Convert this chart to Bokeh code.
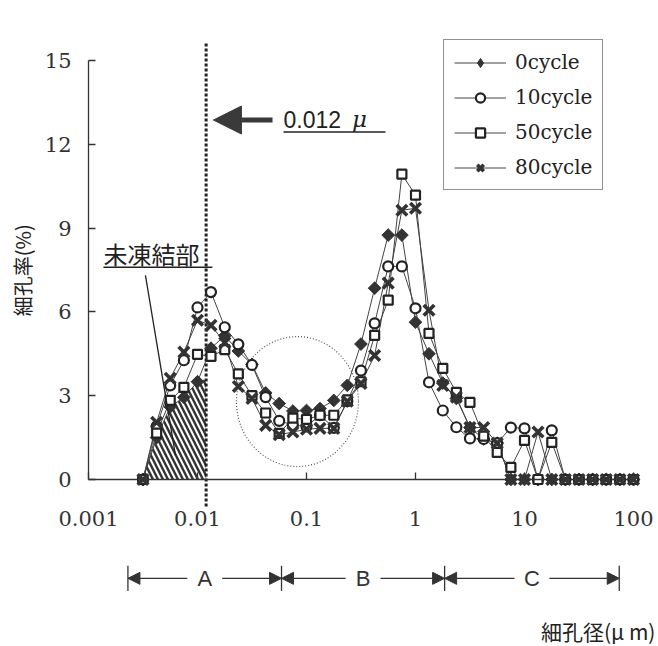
import math

from bokeh.plotting import figure
from bokeh.models import (Range1d, FixedTicker, Arrow, NormalHead, Label,
                          Legend, LegendItem)
from bokeh.core.properties import value
from bokeh.embed import file_html
from bokeh.resources import INLINE

# Pore diameter classes (um)
pore_um = [0.00316, 0.00422, 0.00562, 0.0075, 0.01, 0.0133, 0.0178, 0.0237, 0.0316,
           0.0422, 0.0562, 0.075, 0.1, 0.133, 0.178, 0.237, 0.316, 0.422, 0.562, 0.75,
           1.0, 1.33, 1.78, 2.37, 3.16, 4.22, 5.62, 7.5, 10, 13.3, 17.8, 23.7, 31.6,
           42.2, 56.2, 75, 100]

# Pore volume fraction (%) after freeze-thaw cycles
cycle_0 = [0, 1.5, 2.6, 2.94, 3.5, 4.7, 5.15, 4.6, 4.12, 3.1, 2.72, 2.45, 2.47, 2.54,
           2.83, 3.37, 4.85, 6.85, 8.75, 8.75, 5.63, 4.5, 3.45, 2.9, 1.86, 1.45, 1.3,
           0, 0, 0, 0, 0, 0, 0, 0, 0, 0]
cycle_10 = [0, 1.9, 3.37, 4.27, 6.16, 6.71, 5.45, 4.84, 4.1, 2.95, 2.1, 1.95, 1.9, 2.3,
            1.85, 2.8, 3.9, 5.59, 7.63, 7.63, 6.13, 3.48, 2.47, 1.87, 1.47, 1.45, 1.3,
            1.86, 1.83, 0, 1.76, 0, 0, 0, 0, 0, 0]
cycle_50 = [0, 1.66, 2.83, 3.3, 4.48, 4.41, 4.65, 3.78, 3.0, 2.38, 1.65, 2.2, 2.15, 2.3,
            2.3, 2.85, 3.5, 5.16, 6.42, 10.93, 10.18, 5.23, 3.98, 3.12, 2.76, 1.55, 0.97,
            0.43, 1.4, 0, 1.33, 0, 0, 0, 0, 0, 0]
cycle_80 = [0, 2.05, 3.62, 4.56, 5.7, 5.52, 4.9, 3.33, 2.9, 1.94, 1.6, 1.7, 1.8, 1.83,
            1.83, 2.8, 3.44, 4.44, 7.03, 9.64, 9.71, 6.06, 3.37, 2.95, 1.86, 1.86, 1.3,
            0, 0, 1.7, 0, 0, 0, 0, 0, 0, 0]

series_names = ["0cycle", "10cycle", "50cycle", "80cycle"]

x_ticks = [0.001, 0.01, 0.1, 1, 10, 100]
x_tick_labels = ["0.001", "0.01", "0.1", "1", "10", "100"]
y_ticks = [0, 3, 6, 9, 12, 15]

freeze_limit_um = 0.012          # smallest pore that freezes
unfrozen_top = 3.6               # hatched area height at the freezing limit
region_edges = [0.0023, 0.059, 1.85, 74]
region_names = ["A", "B", "C"]

INK = "#333333"
DARK = "#222222"
SERIF = "DejaVu Serif"
SANS = "Liberation Sans"
CJK = "Noto Sans CJK JP"

# the plot frame fills the whole page; the axes are pinned inside it
p = figure(width=658, height=646, x_axis_type="log", title=None,
           x_range=Range1d(10 ** -3.8073, 10 ** 2.2294), y_range=Range1d(-5.98, 17.15),
           output_backend="svg", toolbar_location=None,
           min_border_left=0, min_border_right=0, min_border_top=0,
           min_border_bottom=0)
p.outline_line_color = None
p.xgrid.visible = False
p.ygrid.visible = False
p.background_fill_color = "white"
p.border_fill_color = "white"

for ax in (p.xaxis[0], p.yaxis[0]):
    ax.axis_line_color = INK
    ax.axis_line_width = 1.3
    ax.major_tick_line_color = INK
    ax.major_tick_line_width = 1.3
    ax.major_tick_in = 7
    ax.major_tick_out = 0
    ax.minor_tick_line_color = None
    ax.major_label_text_font = SERIF
    ax.major_label_text_font_size = "21px"
    ax.major_label_text_color = INK

xa = p.xaxis[0]
xa.fixed_location = 0
xa.bounds = (x_ticks[0], x_ticks[-1])
xa.ticker = FixedTicker(ticks=x_ticks)
xa.major_label_overrides = {t: s for t, s in zip(x_ticks, x_tick_labels)}
xa.major_label_standoff = 32

ya = p.yaxis[0]
ya.fixed_location = x_ticks[0]
ya.bounds = (y_ticks[0], y_ticks[-1])
ya.ticker = FixedTicker(ticks=y_ticks)
ya.major_label_standoff = 17

# hatched unfrozen part below the freezing limit
n_small = sum(1 for d in pore_um if d < freeze_limit_um)
hatch_x = pore_um[:n_small] + [freeze_limit_um, freeze_limit_um]
hatch_y = cycle_0[:n_small] + [unfrozen_top, 0]
p.patch(hatch_x, hatch_y, fill_alpha=0, line_color=None,
        hatch_pattern="left_diagonal_line", hatch_color=INK,
        hatch_weight=2.4, hatch_scale=10)

# dotted ring around the mid-size minimum
p.ellipse(x=[0.0826], y=[2.79], width=122, height=130,
          width_units="screen", height_units="screen",
          fill_color=None, line_color="#555555", line_width=1.2, line_dash="1 2")

# freezing-limit marker line
p.segment(x0=[freeze_limit_um], y0=[-0.97], x1=[freeze_limit_um], y1=[15.66],
          line_color=DARK, line_width=3, line_dash="3 2")

# series
data = [cycle_0, cycle_10, cycle_50, cycle_80]
marker_styles = [
    dict(marker="square", angle=math.pi / 4, size=9, fill_color=INK, line_color=INK,
         line_width=1),
    dict(marker="circle", size=10, fill_color="white", line_color=DARK, line_width=2.2),
    dict(marker="square", size=9, fill_color="white", line_color=DARK, line_width=2.2),
    dict(marker="x", size=15, line_color=INK, line_width=3.6),
]
lines = [p.line(pore_um, ys, line_color="#444444", line_width=1) for ys in data]

# legend swatch for the filled diamonds (legend glyphs are drawn unrotated); it sits
# on the first 0cycle point, fully covered by the rotated square drawn there
diamond_key = p.scatter(x=pore_um[:1], y=cycle_0[:1], marker="diamond", size=13,
                        fill_color=INK, line_color=INK)
dots = [p.scatter(pore_um, ys, **st) for ys, st in zip(data, marker_styles)]
legend_glyphs = [[lines[0], diamond_key]] + [[l, d] for l, d in zip(lines[1:], dots[1:])]

legend = Legend(items=[LegendItem(label=n, renderers=r)
                       for n, r in zip(series_names, legend_glyphs)],
                location=(443, 456), margin=0, padding=10, spacing=11,
                label_height=23, glyph_height=23, glyph_width=52, label_standoff=9,
                label_text_font=SERIF, label_text_font_size="20px",
                label_text_color=DARK, border_line_color=DARK,
                border_line_width=1.2, background_fill_color="white",
                background_fill_alpha=1)
p.add_layout(legend)

# 0.012 um arrow and label
p.add_layout(Arrow(end=NormalHead(size=28, fill_color="#3a3a3a", line_color="#3a3a3a"),
                   x_start=0.0488, y_start=12.87, x_end=0.0140, y_end=12.87,
                   line_width=5, line_color="#3a3a3a"))
p.text(x=[0.0615], y=[12.9], text=["0.012"], text_font=value(SANS),
       text_font_size="23px", text_color=DARK, text_baseline="middle")
p.text(x=[0.262], y=[12.9], text=["μ"], text_font=value(SERIF),
       text_font_style="italic", text_font_size="23px", text_color=DARK,
       text_baseline="middle")
p.segment(x0=[0.0615], y0=[12.44], x1=[0.53], y1=[12.44], line_color=DARK,
          line_width=1.5)

# unfrozen-part callout
p.text(x=[0.00137], y=[8.08], text=["未凍結部"], text_font=value(CJK),
       text_font_size="24px", text_color=DARK, text_baseline="middle")
p.segment(x0=[0.00137], y0=[7.6], x1=[0.0137], y1=[7.6], line_color=DARK,
          line_width=1.5)
p.segment(x0=[0.00333], y0=[7.31], x1=[0.00628], y1=[0.86], line_color=DARK,
          line_width=1.3)

# pore-size ranges A / B / C
row_y = -3.54
gap = 0.16
for i, name in enumerate(region_names):
    lo, hi = region_edges[i], region_edges[i + 1]
    mid = 10 ** ((math.log10(lo) + math.log10(hi)) / 2)
    p.add_layout(Arrow(end=NormalHead(size=12, fill_color=INK, line_color=INK),
                       x_start=mid / 10 ** gap, y_start=row_y, x_end=lo, y_end=row_y,
                       line_width=1.3, line_color=INK))
    p.add_layout(Arrow(end=NormalHead(size=12, fill_color=INK, line_color=INK),
                       x_start=mid * 10 ** gap, y_start=row_y, x_end=hi, y_end=row_y,
                       line_width=1.3, line_color=INK))
    p.add_layout(Label(x=mid, y=row_y, text=name, text_align="center",
                       text_baseline="middle", text_font=SANS,
                       text_font_size="22px", text_color=INK))
for e in region_edges:
    p.add_layout(Arrow(start=None, end=None, x_start=e, y_start=row_y - 0.45,
                       x_end=e, y_end=row_y + 0.45, line_width=1.3, line_color=INK))

# axis titles
p.add_layout(Label(x=0.000248, y=7.49, text="細孔率(%)", angle=math.pi / 2,
                   text_align="center", text_baseline="middle", text_font=CJK,
                   text_font_size="20px", text_color=DARK))
p.add_layout(Label(x=159, y=-5.41, text="細孔径(μ m)", text_align="right",
                   text_baseline="middle", text_font=CJK, text_font_size="21px",
                   text_color=DARK))

open("out.html", "w").write(file_html(p, INLINE))
